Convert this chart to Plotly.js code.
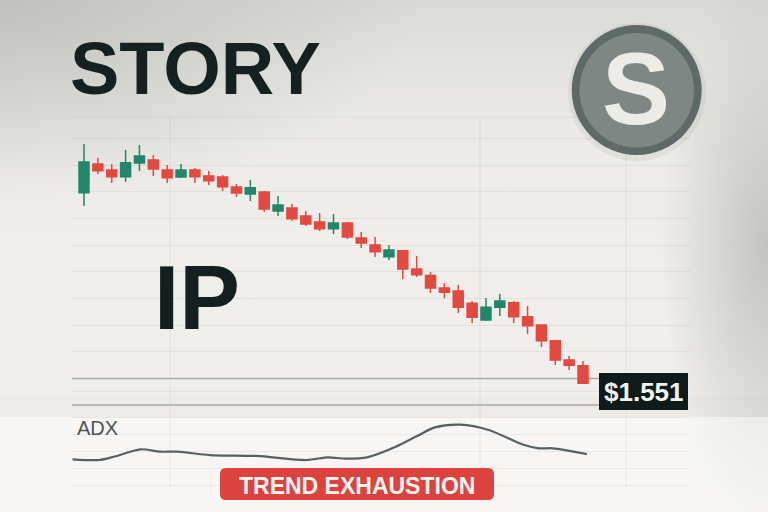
<!DOCTYPE html>
<html>
<head>
<meta charset="utf-8">
<script src="https://cdn.plot.ly/plotly-3.0.1.min.js"></script>
<style>
html,body{margin:0;padding:0;width:768px;height:512px;overflow:hidden;}
body{
  background:
    radial-gradient(ellipse 14% 55% at 100% 48%, rgba(192,194,189,0.95) 0%, rgba(192,194,189,0) 100%),
    radial-gradient(ellipse 55% 40% at 0% 0%, rgba(188,190,186,0.85) 0%, rgba(188,190,186,0) 100%),
    linear-gradient(to bottom, #d9dad6 0%, #e7e6e2 16%, #efede9 34%, #f1efeb 65%, #f1efeb 100%);
}
#chart{width:768px;height:512px;}
</style>
</head>
<body>
<div id="chart"></div>
<script>
// ---- data ----
var days = [0,1,2,3,4,5,6,7,8,9,10,11,12,13,14,15,16,17,18,19,20,21,22,23,24,25,26,27,28,29,30,31,32,33,34,35,36];
var openP  = [2.313,2.428,2.404,2.377,2.432,2.444,2.404,2.376,2.404,2.380,2.376,2.336,2.308,2.316,2.240,2.252,2.220,2.196,2.169,2.192,2.132,2.104,2.057,2.081,2.008,1.982,1.932,1.920,1.871,1.804,1.855,1.873,1.817,1.784,1.721,1.644,1.621];
var highP  = [2.508,2.452,2.428,2.484,2.504,2.464,2.424,2.428,2.412,2.400,2.384,2.348,2.364,2.320,2.300,2.268,2.240,2.232,2.228,2.196,2.156,2.136,2.104,2.084,2.060,1.996,1.952,1.944,1.880,1.892,1.908,1.880,1.860,1.784,1.724,1.660,1.640];
var lowP   = [2.260,2.388,2.352,2.357,2.400,2.380,2.352,2.372,2.352,2.344,2.320,2.296,2.280,2.236,2.220,2.200,2.180,2.160,2.148,2.128,2.092,2.056,2.044,1.968,1.976,1.912,1.892,1.832,1.792,1.800,1.820,1.792,1.748,1.696,1.624,1.604,1.548];
var closeP = [2.436,2.401,2.377,2.433,2.460,2.408,2.373,2.404,2.377,2.361,2.337,2.312,2.333,2.248,2.264,2.209,2.188,2.169,2.192,2.136,2.112,2.077,2.084,2.008,1.985,1.932,1.915,1.855,1.815,1.855,1.880,1.817,1.781,1.721,1.644,1.623,1.551];

var adxX = [-0.83,1.10,2.14,4.07,5.48,6.77,9.09,12.44,16.05,17.60,18.88,20.43,22.49,24.03,25.32,27.13,29.19,31.77,32.80,33.83,36.28];
var adxY = [15.1,14.7,16.6,21.0,19.6,19.6,17.6,17.1,14.7,16.3,15.5,16.3,22.5,28.8,33.9,35.5,32.4,23.5,21.6,21.6,18.2];

var titleText = "STORY";
var tickerText = "IP";
var logoLetter = "S";
var priceLabel = "$1.551";
var adxLabel = "ADX";
var badgeText = "TREND EXHAUSTION";

// ---- helpers for page-pixel layout positions ----
var W = 768, H = 512;
function px(x){ return x / W; }
function py(y){ return 1 - y / H; }
function roundRect(x0, y0, x1, y1, r){
  var rx = r / W, ry = r / H;
  var X0 = px(x0), X1 = px(x1), Y0 = py(y0), Y1 = py(y1);
  return 'M' + (X0+rx) + ',' + Y0 + ' L' + (X1-rx) + ',' + Y0 + ' Q' + X1 + ',' + Y0 + ' ' + X1 + ',' + (Y0-ry) +
         ' L' + X1 + ',' + (Y1+ry) + ' Q' + X1 + ',' + Y1 + ' ' + (X1-rx) + ',' + Y1 +
         ' L' + (X0+rx) + ',' + Y1 + ' Q' + X0 + ',' + Y1 + ' ' + X0 + ',' + (Y1+ry) +
         ' L' + X0 + ',' + (Y0-ry) + ' Q' + X0 + ',' + Y0 + ' ' + (X0+rx) + ',' + Y0 + ' Z';
}

var green = '#22876a', red = '#e3493f';

var traces = [
  {
    type: 'candlestick', x: days, open: openP, high: highP, low: lowP, close: closeP,
    xaxis: 'x', yaxis: 'y',
    increasing: {line: {color: green, width: 1.5}, fillcolor: green},
    decreasing: {line: {color: red, width: 1.5}, fillcolor: red},
    whiskerwidth: 0, hoverinfo: 'skip', showlegend: false
  },
  {
    type: 'scatter', mode: 'lines', x: adxX, y: adxY, xaxis: 'x', yaxis: 'y2',
    line: {color: '#56625f', width: 2.2, shape: 'spline', smoothing: 0.8},
    hoverinfo: 'skip', showlegend: false
  }
];

var gridColor = 'rgba(0,0,0,0.055)';
var shapes = [
  // lighter lower band
  {type:'rect', xref:'paper', yref:'paper', x0:0, x1:1, y0:0, y1:py(417), fillcolor:'rgba(255,255,255,0.45)', line:{width:0}, layer:'below'},
  {type:'rect', xref:'paper', yref:'paper', x0:0, x1:1, y0:py(417), y1:py(395), fillcolor:'rgba(0,0,0,0.012)', line:{width:0}, layer:'below'},
  // vertical faint grid lines
  {type:'line', xref:'paper', yref:'paper', x0:px(170), x1:px(170), y0:py(117), y1:py(487), line:{color:gridColor, width:1}, layer:'below'},
  {type:'line', xref:'paper', yref:'paper', x0:px(480), x1:px(480), y0:py(117), y1:py(487), line:{color:gridColor, width:1}, layer:'below'},
  {type:'line', xref:'paper', yref:'paper', x0:px(626), x1:px(626), y0:py(117), y1:py(487), line:{color:gridColor, width:1}, layer:'below'},
  // extra faint horizontal lines
  {type:'line', xref:'paper', yref:'paper', x0:px(72), x1:px(690), y0:py(117), y1:py(117), line:{color:gridColor, width:1}, layer:'below'},
  {type:'line', xref:'paper', yref:'paper', x0:px(72), x1:px(600), y0:py(391.5), y1:py(391.5), line:{color:gridColor, width:1}, layer:'below'},
  // darker reference lines
  {type:'line', xref:'paper', yref:'paper', x0:px(72), x1:px(600), y0:py(378.5), y1:py(378.5), line:{color:'#b2b2af', width:1.3}, layer:'below'},
  {type:'line', xref:'paper', yref:'paper', x0:px(72), x1:px(600), y0:py(405), y1:py(405), line:{color:'#a9a9a6', width:1.5}, layer:'below'},
  // price label box
  {type:'rect', xref:'paper', yref:'paper', x0:px(599), x1:px(688), y0:py(410), y1:py(373), fillcolor:'#0f1a1a', line:{width:0}},
  // badge
  {type:'path', xref:'paper', yref:'paper', path: roundRect(220, 468, 494, 500, 6), fillcolor:'#dc433e', line:{width:0}},
  // logo
  {type:'circle', xref:'paper', yref:'paper', x0:px(568), x1:px(706), y0:py(161), y1:py(23), fillcolor:'rgba(0,0,0,0.05)', line:{width:0}},
  {type:'circle', xref:'paper', yref:'paper', x0:px(571.7), x1:px(701.7), y0:py(155), y1:py(25), fillcolor:'#5e6a67', line:{width:0}},
  {type:'circle', xref:'paper', yref:'paper', x0:px(579.5), x1:px(694), y0:py(147.5), y1:py(33), fillcolor:'#7f8784', line:{width:0}}
];

var annotations = [
  {text:'<b>'+titleText+'</b>', xref:'paper', yref:'paper', x:px(68), y:py(68), xanchor:'left', yanchor:'middle', showarrow:false,
   font:{family:'Liberation Sans, Arial, sans-serif', size:74, color:'#152020'}},
  {text:'<b>'+tickerText+'</b>', xref:'paper', yref:'paper', x:px(152), y:py(297.5), xanchor:'left', yanchor:'middle', showarrow:false,
   font:{family:'Liberation Sans, Arial, sans-serif', size:91, color:'#142020'}},
  {text:'<b>'+logoLetter+'</b>', xref:'paper', yref:'paper', x:px(636), y:py(89), xanchor:'center', yanchor:'middle', showarrow:false,
   font:{family:'Liberation Sans, Arial, sans-serif', size:102, color:'#ecebe6'}},
  {text:'<b>'+priceLabel+'</b>', xref:'paper', yref:'paper', x:px(644), y:py(392), xanchor:'center', yanchor:'middle', showarrow:false,
   font:{family:'Liberation Sans, Arial, sans-serif', size:26, color:'#f2f2ee'}},
  {text:adxLabel, xref:'paper', yref:'paper', x:px(75), y:py(427.5), xanchor:'left', yanchor:'middle', showarrow:false,
   font:{family:'Liberation Sans, Arial, sans-serif', size:20, color:'#4b5555'}},
  {text:'<b>'+badgeText+'</b>', xref:'paper', yref:'paper', x:px(357), y:py(485.5), xanchor:'center', yanchor:'middle', showarrow:false,
   font:{family:'Liberation Sans, Arial, sans-serif', size:23, color:'#fbf4f1'}}
];

var layout = {
  width: W, height: H,
  margin: {l:0, r:0, t:0, b:0, pad:0},
  paper_bgcolor: 'rgba(0,0,0,0)', plot_bgcolor: 'rgba(0,0,0,0)',
  showlegend: false,
  boxgap: 0.28, boxgroupgap: 0,
  xaxis: {domain:[px(72), px(690)], range:[-0.866, 43.72], showgrid:false, zeroline:false, showticklabels:false, showline:false, ticks:'', rangeslider:{visible:false}, fixedrange:true},
  yaxis: {domain:[py(405), py(117)], range:[1.464, 2.616], tick0:1.570, dtick:0.10667, showgrid:true, gridcolor:gridColor, gridwidth:1, zeroline:false, showticklabels:false, showline:false, ticks:'', fixedrange:true},
  yaxis2: {domain:[py(490), py(416)], range:[-2.94, 40.6], tick0:0, dtick:10, showgrid:true, gridcolor:gridColor, gridwidth:1, zeroline:false, showticklabels:false, showline:false, ticks:'', anchor:'x', fixedrange:true},
  shapes: shapes,
  annotations: annotations
};

Plotly.newPlot('chart', traces, layout, {staticPlot:true, displayModeBar:false});
</script>
</body>
</html>
